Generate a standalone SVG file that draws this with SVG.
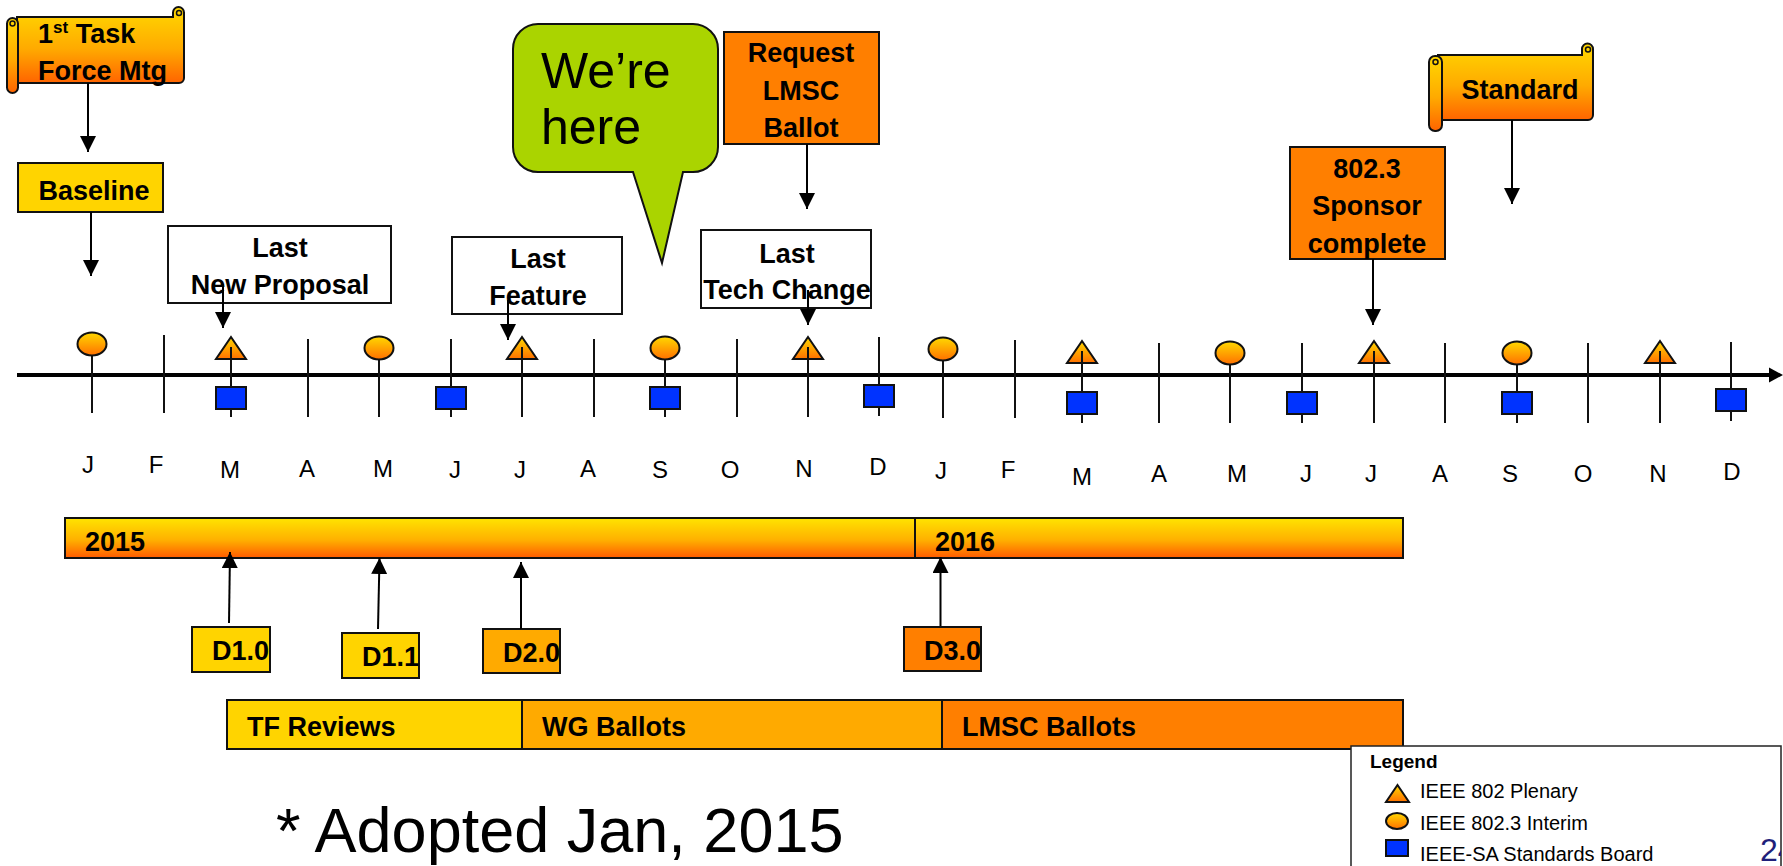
<svg xmlns="http://www.w3.org/2000/svg" width="1783" height="866" viewBox="0 0 1783 866">
<defs>
<linearGradient id="gScroll" x1="0" y1="0" x2="0" y2="1"><stop offset="0" stop-color="#FFD800"/><stop offset="0.55" stop-color="#FFAA00"/><stop offset="1" stop-color="#FF6400"/></linearGradient>
<linearGradient id="gBar" x1="0" y1="0" x2="0" y2="1"><stop offset="0" stop-color="#FFE400"/><stop offset="0.55" stop-color="#FFB000"/><stop offset="1" stop-color="#FF5A00"/></linearGradient>
<linearGradient id="gMark" x1="0" y1="0" x2="0" y2="1"><stop offset="0" stop-color="#FFD800"/><stop offset="1" stop-color="#FF7000"/></linearGradient>
<marker id="ah" markerUnits="userSpaceOnUse" markerWidth="16" markerHeight="16" viewBox="0 0 15 15" refX="15" refY="7.5" orient="auto"><path d="M0,0 L15,7.5 L0,15 Z" fill="#000"/></marker>
<clipPath id="pgclip"><rect x="0" y="0" width="1781" height="866"/></clipPath>
<style>
.box{stroke:#111;stroke-width:2}
.lbl{font-family:"Liberation Sans",Arial,sans-serif;font-weight:bold;font-size:27px;fill:#000;text-anchor:middle}
.st{text-anchor:start}
.mon{font-family:"Liberation Sans",Arial,sans-serif;font-size:24px;fill:#000;text-anchor:middle}
.tick{stroke:#111;stroke-width:2}
.conn{stroke:#000;stroke-width:2;fill:none;marker-end:url(#ah)}
.mk{fill:url(#gMark);stroke:#111;stroke-width:2}
.sq{fill:#0033FF;stroke:#111;stroke-width:2}
.leg{font-family:"Liberation Sans",Arial,sans-serif;font-size:20px;fill:#000}
</style>
</defs>
<rect width="1783" height="866" fill="#fff"/>

<!-- timeline axis -->
<g id="axis">
<line x1="17" y1="375" x2="1770" y2="375" stroke="#000" stroke-width="4"/>
<polygon points="1769,367.5 1783,375 1769,382.5" fill="#000"/>
<g class="tick">
<line x1="92" y1="355" x2="92" y2="413"/>
<line x1="164" y1="335" x2="164" y2="413"/>
<line x1="231" y1="347" x2="231" y2="417"/>
<line x1="308" y1="339" x2="308" y2="417"/>
<line x1="379" y1="359" x2="379" y2="417"/>
<line x1="451" y1="339" x2="451" y2="417"/>
<line x1="522" y1="347" x2="522" y2="417"/>
<line x1="594" y1="339" x2="594" y2="417"/>
<line x1="665" y1="359" x2="665" y2="417"/>
<line x1="737" y1="339" x2="737" y2="417"/>
<line x1="808" y1="347" x2="808" y2="417"/>
<line x1="879" y1="337" x2="879" y2="416"/>
<line x1="943" y1="360" x2="943" y2="418"/>
<line x1="1015" y1="340" x2="1015" y2="418"/>
<line x1="1082" y1="351" x2="1082" y2="423"/>
<line x1="1159" y1="343" x2="1159" y2="423"/>
<line x1="1230" y1="364" x2="1230" y2="423"/>
<line x1="1302" y1="343" x2="1302" y2="423"/>
<line x1="1374" y1="351" x2="1374" y2="423"/>
<line x1="1445" y1="343" x2="1445" y2="423"/>
<line x1="1517" y1="364" x2="1517" y2="423"/>
<line x1="1588" y1="343" x2="1588" y2="423"/>
<line x1="1660" y1="351" x2="1660" y2="423"/>
<line x1="1731" y1="342" x2="1731" y2="421"/>
</g>
</g>

<!-- markers: interim meetings -->
<g id="interims">
<ellipse class="mk" cx="92" cy="344" rx="14.5" ry="11.5"/>
<ellipse class="mk" cx="379" cy="348" rx="14.5" ry="11.5"/>
<ellipse class="mk" cx="665" cy="348" rx="14.5" ry="11.5"/>
<ellipse class="mk" cx="943" cy="349" rx="14.5" ry="11.5"/>
<ellipse class="mk" cx="1230" cy="353" rx="14.5" ry="11.5"/>
<ellipse class="mk" cx="1517" cy="353" rx="14.5" ry="11.5"/>
</g>
<!-- plenaries -->
<g id="plenaries">
<polygon class="mk" points="231,337 246,359 216,359"/>
<polygon class="mk" points="522,337 537,359 507,359"/>
<polygon class="mk" points="808,337 823,359 793,359"/>
<polygon class="mk" points="1082,341 1097,363 1067,363"/>
<polygon class="mk" points="1374,341 1389,363 1359,363"/>
<polygon class="mk" points="1660,341 1675,363 1645,363"/>
<g class="tick">
<line x1="231" y1="347" x2="231" y2="372"/>
<line x1="522" y1="347" x2="522" y2="372"/>
<line x1="808" y1="347" x2="808" y2="372"/>
<line x1="1082" y1="351" x2="1082" y2="372"/>
<line x1="1374" y1="351" x2="1374" y2="372"/>
<line x1="1660" y1="351" x2="1660" y2="372"/>
</g>
</g>
<!-- SA standards board -->
<g id="sasb">
<rect class="sq" x="216" y="387" width="30" height="22"/>
<rect class="sq" x="436" y="387" width="30" height="22"/>
<rect class="sq" x="650" y="387" width="30" height="22"/>
<rect class="sq" x="864" y="385" width="30" height="22"/>
<rect class="sq" x="1067" y="392" width="30" height="22"/>
<rect class="sq" x="1287" y="392" width="30" height="22"/>
<rect class="sq" x="1502" y="392" width="30" height="22"/>
<rect class="sq" x="1716" y="389" width="30" height="22"/>
</g>

<!-- month labels -->
<g id="months">
<text class="mon" x="88" y="473">J</text>
<text class="mon" x="156" y="473">F</text>
<text class="mon" x="230" y="478">M</text>
<text class="mon" x="307" y="477">A</text>
<text class="mon" x="383" y="477">M</text>
<text class="mon" x="455" y="478">J</text>
<text class="mon" x="520" y="478">J</text>
<text class="mon" x="588" y="477">A</text>
<text class="mon" x="660" y="478">S</text>
<text class="mon" x="730" y="478">O</text>
<text class="mon" x="804" y="477">N</text>
<text class="mon" x="878" y="475">D</text>
<text class="mon" x="941" y="479">J</text>
<text class="mon" x="1008" y="478">F</text>
<text class="mon" x="1082" y="485">M</text>
<text class="mon" x="1159" y="482">A</text>
<text class="mon" x="1237" y="482">M</text>
<text class="mon" x="1306" y="482">J</text>
<text class="mon" x="1371" y="482">J</text>
<text class="mon" x="1440" y="482">A</text>
<text class="mon" x="1510" y="482">S</text>
<text class="mon" x="1583" y="482">O</text>
<text class="mon" x="1658" y="482">N</text>
<text class="mon" x="1732" y="480">D</text>
</g>

<!-- nodes -->
<g id="scroll-first-tf">
<path d="M17 17 H173 V12.5 A5.5 5.5 0 0 1 184 12.5 V78 A5 5 0 0 1 179 83 H17 Z" fill="url(#gScroll)" class="box"/>
<circle cx="179" cy="13" r="2.5" fill="none" stroke="#111" stroke-width="1.5"/>
<rect x="7" y="18" width="11" height="75" rx="5.5" fill="url(#gScroll)" class="box"/>
<circle cx="12.5" cy="23.5" r="2.5" fill="none" stroke="#111" stroke-width="1.5"/>
<text class="lbl st" x="38" y="43">1<tspan font-size="17" dy="-10">st</tspan><tspan dy="10"> Task</tspan></text>
<text class="lbl st" x="38" y="80">Force Mtg</text>
</g>

<g id="baseline">
<rect class="box" x="18" y="163" width="145" height="49" fill="#FFD400"/>
<text class="lbl" x="94" y="200" font-size="26">Baseline</text>
</g>

<g id="last-new-proposal">
<rect class="box" x="168" y="226" width="223" height="77" fill="#fff"/>
<text class="lbl" x="280" y="257">Last</text>
<text class="lbl" x="280" y="294">New Proposal</text>
</g>

<g id="last-feature">
<rect class="box" x="452" y="237" width="170" height="77" fill="#fff"/>
<text class="lbl" x="538" y="268">Last</text>
<text class="lbl" x="538" y="305">Feature</text>
</g>

<g id="were-here">
<path d="M538 24 H693 A25 25 0 0 1 718 49 V147 A25 25 0 0 1 693 172 H683 L662 263 L633 172 H538 A25 25 0 0 1 513 147 V49 A25 25 0 0 1 538 24 Z" fill="#AAD400" class="box"/>
<text x="541" y="88" font-family="Liberation Sans, Arial, sans-serif" font-size="50" fill="#000">We’re</text>
<text x="541" y="144" font-family="Liberation Sans, Arial, sans-serif" font-size="50" fill="#000">here</text>
</g>

<g id="request-lmsc">
<rect class="box" x="724" y="32" width="155" height="112" fill="#FF7F00"/>
<text class="lbl" x="801" y="62">Request</text>
<text class="lbl" x="801" y="100">LMSC</text>
<text class="lbl" x="801" y="137">Ballot</text>
</g>

<g id="last-tech-change">
<rect class="box" x="701" y="230" width="170" height="78" fill="#fff"/>
<text class="lbl" x="787" y="263">Last</text>
<text class="lbl" x="787" y="299" font-size="26">Tech Change</text>
</g>

<g id="sponsor-complete">
<rect class="box" x="1290" y="147" width="155" height="112" fill="#FF7F00"/>
<text class="lbl" x="1367" y="178">802.3</text>
<text class="lbl" x="1367" y="215">Sponsor</text>
<text class="lbl" x="1367" y="253">complete</text>
</g>

<g id="scroll-standard">
<path d="M1438 55 H1582 V49 A5.5 5.5 0 0 1 1593 49 V115 A5 5 0 0 1 1588 120 H1438 Z" fill="url(#gScroll)" class="box"/>
<circle cx="1588" cy="49.5" r="2.5" fill="none" stroke="#111" stroke-width="1.5"/>
<rect x="1429" y="56" width="13" height="75" rx="6" fill="url(#gScroll)" class="box"/>
<circle cx="1435.5" cy="62" r="2.5" fill="none" stroke="#111" stroke-width="1.5"/>
<text class="lbl" x="1520" y="99">Standard</text>
</g>

<g id="year-bar">
<rect class="box" x="65" y="518" width="1338" height="40" fill="url(#gBar)"/>
<line x1="915" y1="518" x2="915" y2="558" stroke="#111" stroke-width="2"/>
<text class="lbl st" x="85" y="551" font-size="28">2015</text>
<text class="lbl st" x="935" y="551" font-size="28">2016</text>
</g>

<g id="d10">
<rect class="box" x="192" y="627" width="78" height="45" fill="#FFD400"/>
<text class="lbl st" x="212" y="660" font-size="23">D1.0</text>
</g>
<g id="d11">
<rect class="box" x="342" y="633" width="77" height="45" fill="#FFD400"/>
<text class="lbl st" x="362" y="666" font-size="23">D1.1</text>
</g>
<g id="d20">
<rect class="box" x="483" y="629" width="77" height="44" fill="#FFAA00"/>
<text class="lbl st" x="503" y="662" font-size="23">D2.0</text>
</g>
<g id="d30">
<rect class="box" x="904" y="627" width="77" height="44" fill="#FF7F00"/>
<text class="lbl st" x="924" y="660" font-size="23">D3.0</text>
</g>

<g id="phases">
<rect class="box" x="227" y="700" width="295" height="49" fill="#FFD400"/>
<rect class="box" x="522" y="700" width="420" height="49" fill="#FFAA00"/>
<rect class="box" x="942" y="700" width="461" height="49" fill="#FF7F00"/>
<text class="lbl st" x="247" y="736" font-size="22">TF Reviews</text>
<text class="lbl st" x="542" y="736" font-size="22">WG Ballots</text>
<text class="lbl st" x="962" y="736" font-size="22">LMSC Ballots</text>
</g>

<g id="note">
<text x="276" y="852" font-family="Liberation Sans, Arial, sans-serif" font-size="63" fill="#000">* Adopted Jan, 2015</text>
</g>

<g id="legend">
<rect x="1351" y="746" width="430" height="130" fill="#fff" stroke="#222" stroke-width="1.5"/>
<text x="1370" y="768" font-family="Liberation Sans, Arial, sans-serif" font-weight="bold" font-size="19" fill="#000">Legend</text>
<polygon class="mk" points="1397.5,785 1409,802 1386,802" stroke-width="1.5"/>
<text class="leg" x="1420" y="798">IEEE 802 Plenary</text>
<ellipse class="mk" cx="1397" cy="821" rx="11" ry="8" stroke-width="1.5"/>
<text class="leg" x="1420" y="830">IEEE 802.3 Interim</text>
<rect class="sq" x="1386" y="840" width="22" height="16" stroke-width="1.5"/>
<text class="leg" x="1420" y="861">IEEE-SA Standards Board</text>
</g>

<g id="page-number" clip-path="url(#pgclip)">
<text x="1760" y="861" font-family="Liberation Sans, Arial, sans-serif" font-size="32" fill="#1F1F7A">24</text>
</g>

<!-- connectors -->
<g id="connectors">
<line class="conn" x1="88" y1="83" x2="88" y2="152"/>
<line class="conn" x1="91" y1="212" x2="91" y2="276"/>
<line class="conn" x1="223" y1="284" x2="223" y2="328"/>
<line class="conn" x1="508" y1="300" x2="508" y2="340"/>
<line class="conn" x1="807" y1="144" x2="807" y2="209"/>
<line class="conn" x1="808" y1="290" x2="808" y2="325"/>
<line class="conn" x1="1373" y1="259" x2="1373" y2="325"/>
<line class="conn" x1="1512" y1="120" x2="1512" y2="204"/>
<line class="conn" x1="229" y1="623" x2="230" y2="552"/>
<line class="conn" x1="378" y1="629" x2="379.5" y2="558"/>
<line class="conn" x1="521" y1="629" x2="521" y2="562"/>
<line class="conn" x1="940.5" y1="626" x2="940.5" y2="557"/>
</g>
</svg>
